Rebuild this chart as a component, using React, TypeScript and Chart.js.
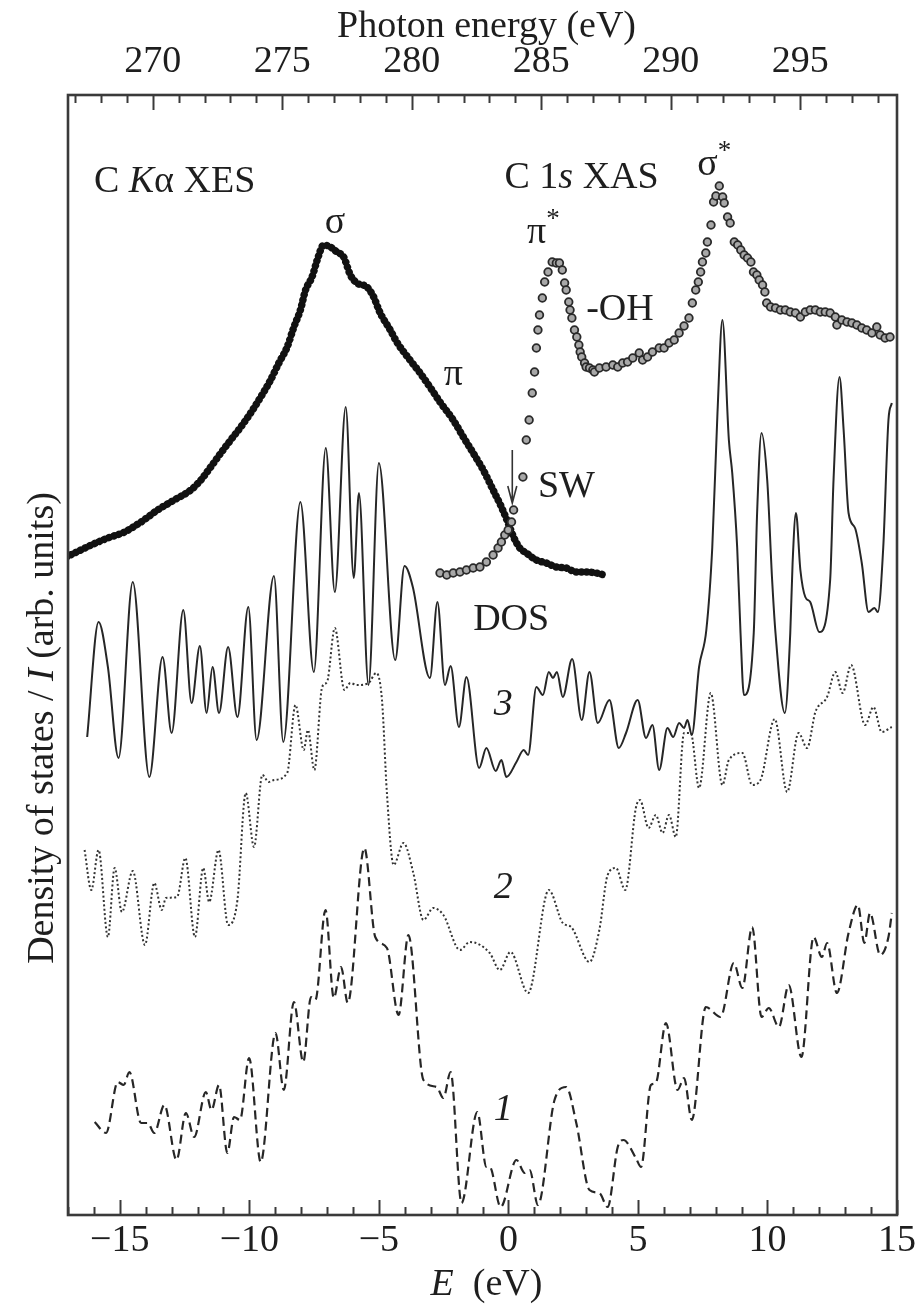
import React, { useEffect, useRef } from "react";
import { Chart, registerables } from "chart.js";

Chart.register(...registerables);

// ---------- axes ----------
const E_MIN = -17;
const E_MAX = 15;
const PHOTON_OFFSET = 283.73; // photon energy = E + offset
const bottomTickValues: number[] = [];
for (let v = -17; v <= 15; v++) bottomTickValues.push(v);
const topTickValues: number[] = [];
for (let v = 267; v <= 298; v++) topTickValues.push(v);

// ---------- data (E in eV, intensity in arb. units) ----------
const curve3: [number, number][] = [
  [-16.26, 478], [-15.82, 593], [-15.46, 548], [-15.05, 457], [-14.5, 633], [-13.86, 438], [-13.35, 558],
  [-13.0, 482], [-12.55, 605], [-12.23, 512], [-11.91, 569], [-11.65, 502], [-11.42, 548], [-11.17, 502],
  [-10.82, 568], [-10.46, 498], [-10.04, 608], [-9.72, 475], [-9.05, 639], [-8.69, 473], [-8.03, 713],
  [-7.51, 543], [-7.05, 767], [-6.7, 623], [-6.28, 808], [-5.97, 637], [-5.77, 722], [-5.4, 530],
  [-5.0, 752], [-4.37, 555], [-4.01, 649], [-3.69, 628], [-3.03, 537], [-2.74, 613], [-2.45, 530],
  [-2.23, 549], [-1.91, 488], [-1.62, 538], [-1.13, 447], [-0.85, 467], [-0.49, 444], [-0.27, 455],
  [-0.08, 438], [0.31, 453], [0.59, 465], [0.76, 460], [1.08, 528], [1.33, 520], [1.56, 543], [1.72, 537],
  [1.87, 543], [2.1, 518], [2.46, 556], [2.83, 495], [3.13, 543], [3.45, 492], [3.9, 515], [4.26, 467],
  [4.54, 482], [4.99, 515], [5.31, 477], [5.56, 490], [5.82, 445], [6.14, 487], [6.36, 478], [6.59, 492],
  [6.78, 487], [6.91, 495], [7.08, 480], [7.36, 548], [7.64, 585], [7.87, 668], [8.07, 802], [8.26, 895],
  [8.51, 775], [8.64, 742], [8.83, 668], [8.96, 582], [9.09, 520], [9.47, 582], [9.6, 702], [9.77, 782],
  [9.99, 735], [10.18, 635], [10.31, 582], [10.67, 502], [10.88, 582], [10.97, 652], [11.1, 702],
  [11.27, 645], [11.46, 618], [11.65, 613], [12.0, 583], [12.42, 635], [12.55, 735], [12.78, 838],
  [12.94, 785], [13.13, 702], [13.38, 687], [13.64, 652], [13.9, 603], [14.13, 607], [14.26, 603],
  [14.47, 668], [14.67, 795], [14.8, 812],
];

const curve2: [number, number][] = [
  [-16.36, 365], [-16.1, 325], [-15.82, 365], [-15.46, 278], [-15.2, 347], [-14.92, 303], [-14.5, 344],
  [-14.03, 270], [-13.67, 332], [-13.38, 305], [-13.22, 317], [-12.79, 318], [-12.47, 357], [-12.1, 278],
  [-11.78, 347], [-11.55, 313], [-11.19, 365], [-10.82, 290], [-10.46, 315], [-10.14, 422], [-9.82, 368],
  [-9.5, 440], [-9.25, 433], [-9.05, 435], [-8.54, 442], [-8.22, 510], [-7.9, 465], [-7.74, 485],
  [-7.49, 445], [-7.19, 528], [-7.0, 533], [-6.7, 587], [-6.33, 525], [-6.1, 532], [-5.85, 530],
  [-5.4, 532], [-5.1, 542], [-4.88, 515], [-4.69, 422], [-4.43, 350], [-4.05, 372], [-3.67, 342],
  [-3.28, 295], [-2.9, 307], [-2.51, 300], [-1.87, 265], [-1.49, 273], [-0.72, 262], [-0.33, 245],
  [0.08, 263], [0.76, 222], [1.56, 325], [2.1, 292], [2.42, 288], [3.13, 253], [3.51, 285], [3.83, 340],
  [4.15, 347], [4.51, 325], [4.92, 407], [5.08, 415], [5.41, 387], [5.69, 400], [5.95, 382], [6.2, 400],
  [6.46, 378], [6.78, 482], [7.04, 482], [7.36, 427], [7.81, 522], [8.26, 430], [8.51, 455], [9.03, 462],
  [9.41, 430], [9.73, 435], [10.28, 496], [10.76, 423], [11.2, 482], [11.53, 467], [11.85, 503],
  [12.3, 518], [12.62, 543], [12.9, 522], [13.23, 550], [13.77, 490], [14.09, 508], [14.41, 483], [14.8, 488],
];

const curve1: [number, number][] = [
  [-15.97, 93], [-15.53, 82], [-15.08, 133], [-14.85, 130], [-14.63, 143], [-14.18, 92], [-13.92, 92],
  [-13.67, 82], [-13.28, 110], [-12.81, 55], [-12.45, 102], [-12.13, 78], [-11.68, 123], [-11.46, 105],
  [-11.17, 130], [-10.85, 62], [-10.59, 98], [-10.36, 95], [-10.01, 157], [-9.56, 53], [-8.99, 182],
  [-8.67, 125], [-8.28, 213], [-7.92, 153], [-7.62, 218], [-7.45, 215], [-7.06, 305], [-6.74, 217],
  [-6.46, 248], [-6.2, 212], [-5.56, 367], [-5.14, 278], [-4.69, 267], [-4.24, 200], [-3.86, 280],
  [-3.28, 135], [-2.77, 128], [-2.51, 117], [-2.23, 143], [-1.81, 12], [-1.2, 103], [-0.85, 48],
  [-0.72, 48], [-0.3, 8], [0.31, 55], [0.63, 42], [0.82, 45], [1.14, 10], [1.78, 115], [2.23, 128],
  [2.62, 92], [3.13, 25], [3.51, 22], [3.83, 8], [4.22, 68], [4.44, 75], [4.92, 57], [5.12, 48],
  [5.5, 130], [5.69, 132], [6.08, 192], [6.53, 125], [6.78, 137], [7.08, 95], [7.62, 208], [8.19, 198],
  [8.7, 252], [9.03, 227], [9.41, 288], [9.77, 198], [10.05, 207], [10.44, 188], [10.82, 230],
  [11.31, 158], [11.78, 278], [12.1, 258], [12.3, 272], [12.68, 222], [13.13, 282], [13.49, 310],
  [13.74, 272], [13.96, 302], [14.35, 260], [14.67, 278], [14.8, 302],
];

// C Kα XES (filled dots)
const xesPoints: [number, number][] = [
  [-17.06, 658], [-16.1, 670], [-15.46, 677], [-14.82, 683], [-14.18, 693], [-13.54, 705], [-12.9, 715],
  [-12.26, 725], [-11.87, 735], [-11.49, 748], [-11.1, 762], [-10.72, 775], [-10.33, 788], [-9.95, 802],
  [-9.56, 818], [-9.18, 835], [-8.86, 852], [-8.54, 868], [-8.28, 888], [-8.03, 905], [-7.83, 925],
  [-7.58, 938], [-7.38, 955], [-7.13, 970], [-6.87, 968], [-6.62, 963], [-6.36, 958], [-6.1, 940],
  [-5.85, 932], [-5.46, 928], [-5.2, 918], [-4.95, 902], [-4.56, 885], [-4.31, 873], [-3.8, 855],
  [-3.41, 842], [-3.03, 828], [-2.64, 813], [-2.13, 795], [-1.74, 778], [-1.36, 762], [-0.97, 745],
  [-0.59, 725], [-0.27, 708], [-0.01, 692], [0.2, 678], [0.44, 667], [0.69, 662], [1.08, 655],
  [1.46, 652], [1.85, 648], [2.23, 647], [2.62, 643], [3.0, 643], [3.38, 642], [3.7, 640],
];

// C 1s XAS (open circles)
const xasPoints: [number, number][] = [
  [-2.64, 642], [-2.38, 640], [-2.13, 642], [-1.87, 643], [-1.62, 645], [-1.36, 647], [-1.1, 648],
  [-0.85, 653], [-0.59, 660], [-0.4, 667], [-0.27, 673], [-0.14, 680], [-0.01, 685], [0.12, 693],
  [0.2, 705], [0.56, 738], [0.69, 775], [0.8, 795], [0.92, 822], [1.01, 843], [1.08, 867], [1.14, 885],
  [1.2, 900], [1.31, 917], [1.4, 933], [1.53, 943], [1.69, 953], [1.85, 952], [1.97, 952], [2.08, 945],
  [2.17, 932], [2.23, 925], [2.33, 913], [2.38, 905], [2.45, 897], [2.55, 885], [2.64, 878], [2.72, 870],
  [2.77, 863], [2.83, 858], [2.94, 852], [3.0, 848], [3.13, 847], [3.26, 845], [3.32, 843], [3.51, 847],
  [3.77, 848], [4.03, 850], [4.22, 848], [4.41, 852], [4.6, 853], [4.8, 857], [5.05, 862], [5.18, 855],
  [5.37, 858], [5.56, 863], [5.82, 867], [6.01, 867], [6.2, 872], [6.4, 875], [6.59, 882], [6.78, 889],
  [6.97, 897], [7.1, 912], [7.23, 925], [7.33, 933], [7.42, 943], [7.49, 953], [7.62, 962], [7.68, 973],
  [7.82, 990], [7.92, 1013], [8.01, 1019], [8.14, 1029], [8.27, 1018], [8.33, 1012], [8.46, 998],
  [8.56, 992], [8.72, 973], [8.85, 970], [8.97, 965], [9.1, 960], [9.23, 957], [9.36, 953], [9.46, 943],
  [9.59, 940], [9.68, 935], [9.81, 930], [9.9, 923], [9.97, 912], [10.12, 908], [10.31, 907], [10.5, 905],
  [10.69, 905], [10.88, 903], [11.08, 902], [11.27, 898], [11.46, 903], [11.65, 905], [11.85, 905],
  [12.04, 903], [12.23, 903], [12.42, 902], [12.62, 898], [12.68, 890], [12.87, 895], [13.07, 893],
  [13.26, 892], [13.45, 890], [13.64, 887], [13.83, 885], [14.03, 882], [14.22, 888], [14.35, 880],
  [14.54, 877], [14.73, 878],
];

// ---------- text ----------
const SERIF = "'Liberation Serif', 'Times New Roman', Times, serif";
const FONT_SIZE = 38;

type Part = { t: string; it?: boolean; sup?: boolean };
type Label = { parts: Part[]; E: number; v: number; align: "left" | "center" };

const labels: Label[] = [
  { parts: [{ t: "C " }, { t: "K", it: true }, { t: "α XES" }], E: -16.0, v: 1023, align: "left" },
  { parts: [{ t: "σ" }], E: -6.69, v: 982, align: "center" },
  { parts: [{ t: "π" }], E: -2.13, v: 830, align: "center" },
  { parts: [{ t: "C 1" }, { t: "s", it: true }, { t: " XAS" }], E: -0.15, v: 1027, align: "left" },
  { parts: [{ t: "σ" }, { t: "*", sup: true }], E: 7.95, v: 1040, align: "center" },
  { parts: [{ t: "π" }, { t: "*", sup: true }], E: 1.35, v: 972, align: "center" },
  { parts: [{ t: "-OH" }], E: 3.0, v: 895, align: "left" },
  { parts: [{ t: "SW" }], E: 1.14, v: 718, align: "left" },
  { parts: [{ t: "DOS" }], E: -1.36, v: 585, align: "left" },
  { parts: [{ t: "3", it: true }], E: -0.2, v: 500, align: "center" },
  { parts: [{ t: "2", it: true }], E: -0.2, v: 317, align: "center" },
  { parts: [{ t: "1", it: true }], E: -0.2, v: 95, align: "center" },
];
const swArrow = { E: 0.15, vFrom: 765, vTo: 712 };

function drawParts(ctx: CanvasRenderingContext2D, parts: Part[], x: number, y: number, size: number, align: string) {
  const fontFor = (p: Part) => `${p.it ? "italic " : ""}${p.sup ? Math.round(size * 0.72) : size}px ${SERIF}`;
  let total = 0;
  for (const p of parts) {
    ctx.font = fontFor(p);
    total += ctx.measureText(p.t).width;
  }
  let cx = align === "center" ? x - total / 2 : x;
  ctx.textAlign = "left";
  ctx.textBaseline = "alphabetic";
  for (const p of parts) {
    ctx.font = fontFor(p);
    ctx.fillText(p.t, cx, p.sup ? y - size * 0.42 : y);
    cx += ctx.measureText(p.t).width;
  }
  return total;
}

const decorPlugin = {
  id: "decor",
  afterDatasetsDraw(chart: any) {
    const { ctx, chartArea: a, scales } = chart;
    const xs = scales.x;
    const xt = scales.xTop;
    const ys = scales.y;
    ctx.save();
    ctx.strokeStyle = "#3a3a3a";
    ctx.lineWidth = 2;
    ctx.lineCap = "butt";
    for (const t of xs.ticks) {
      const p = Math.round(xs.getPixelForValue(t.value)) + 0.5;
      const len = t.value % 5 === 0 ? 15 : 8;
      ctx.beginPath();
      ctx.moveTo(p, a.bottom);
      ctx.lineTo(p, a.bottom - len);
      ctx.stroke();
    }
    for (const t of xt.ticks) {
      const p = Math.round(xt.getPixelForValue(t.value)) + 0.5;
      const len = t.value % 5 === 0 ? 15 : 8;
      ctx.beginPath();
      ctx.moveTo(p, a.top);
      ctx.lineTo(p, a.top + len);
      ctx.stroke();
    }
    ctx.lineWidth = 2.6;
    ctx.strokeRect(a.left, a.top, a.right - a.left, a.bottom - a.top);

    ctx.fillStyle = "#1e1e1e";
    for (const l of labels) {
      drawParts(ctx, l.parts, xs.getPixelForValue(l.E), ys.getPixelForValue(l.v), FONT_SIZE, l.align);
    }
    // SW arrow
    const ax = xs.getPixelForValue(swArrow.E);
    const y0 = ys.getPixelForValue(swArrow.vFrom);
    const y1 = ys.getPixelForValue(swArrow.vTo);
    ctx.strokeStyle = "#333";
    ctx.lineWidth = 1.6;
    ctx.beginPath();
    ctx.moveTo(ax, y0);
    ctx.lineTo(ax, y1);
    ctx.moveTo(ax - 4.5, y1 - 17);
    ctx.lineTo(ax, y1);
    ctx.lineTo(ax + 4.5, y1 - 17);
    ctx.stroke();

    // axis titles
    const midX = (a.left + a.right) / 2;
    drawParts(ctx, [{ t: "Photon energy (eV)" }], midX + 4, 37, FONT_SIZE, "center");
    drawParts(ctx, [{ t: "E", it: true }, { t: "  (eV)" }], midX + 4, 1295, FONT_SIZE, "center");
    ctx.save();
    ctx.translate(53, 728);
    ctx.rotate(-Math.PI / 2);
    drawParts(ctx, [{ t: "Density of states / " }, { t: "I", it: true }, { t: " (arb. units)" }], 0, 0, FONT_SIZE, "center");
    ctx.restore();
    ctx.restore();
  },
};

const toXY = (arr: [number, number][]) => arr.map(([x, y]) => ({ x, y }));
const fmt = (v: number) => (v < 0 ? "\u2212" + Math.abs(v) : String(v));

export default function App() {
  const ref = useRef<HTMLCanvasElement>(null);
  useEffect(() => {
    const canvas = ref.current!;
    const tickFont = { family: SERIF, size: FONT_SIZE };
    const chart = new Chart(canvas, {
      type: "line",
      data: {
        datasets: [
          {
            label: "C 1s XAS",
            data: toXY(xasPoints),
            showLine: false,
            pointRadius: 3.8,
            pointBorderWidth: 1.8,
            pointBorderColor: "#2a2a2a",
            pointBackgroundColor: "#a8a8a8",
          },
          {
            label: "C Kα XES",
            data: toXY(xesPoints),
            borderColor: "#111",
            borderWidth: 7.5,
            borderDash: [0.01, 5.2],
            borderCapStyle: "round",
            pointRadius: 0,
            cubicInterpolationMode: "monotone",
          },
          {
            label: "3",
            data: toXY(curve3),
            borderColor: "#262626",
            borderWidth: 2,
            pointRadius: 0,
            cubicInterpolationMode: "monotone",
          },
          {
            label: "2",
            data: toXY(curve2),
            borderColor: "#333",
            borderWidth: 2,
            borderDash: [2, 2.4],
            pointRadius: 0,
            cubicInterpolationMode: "monotone",
          },
          {
            label: "1",
            data: toXY(curve1),
            borderColor: "#262626",
            borderWidth: 2.2,
            borderDash: [9, 5],
            pointRadius: 0,
            cubicInterpolationMode: "monotone",
          },
        ],
      } as any,
      options: {
        animation: false,
        responsive: false,
        devicePixelRatio: 1,
        layout: { padding: { left: 68, right: 22, top: 0, bottom: 0 } },
        plugins: { legend: { display: false }, tooltip: { enabled: false } },
        scales: {
          x: {
            type: "linear",
            position: "bottom",
            min: E_MIN,
            max: E_MAX,
            grid: { display: false, drawTicks: false },
            border: { display: false },
            afterBuildTicks: (s: any) => {
              s.ticks = bottomTickValues.map((value) => ({ value }));
            },
            afterFit: (s: any) => {
              s.height = 91;
              s.paddingLeft = 0;
              s.paddingRight = 0;
            },
            ticks: {
              autoSkip: false,
              maxRotation: 0,
              padding: 3,
              color: "#1e1e1e",
              font: tickFont,
              callback: (v: any) => (Number(v) % 5 === 0 ? fmt(Number(v)) : ""),
            },
          },
          xTop: {
            type: "linear",
            position: "top",
            min: E_MIN + PHOTON_OFFSET,
            max: E_MAX + PHOTON_OFFSET,
            grid: { display: false, drawTicks: false },
            border: { display: false },
            afterBuildTicks: (s: any) => {
              s.ticks = topTickValues.map((value) => ({ value }));
            },
            afterFit: (s: any) => {
              s.height = 95;
              s.paddingLeft = 0;
              s.paddingRight = 0;
            },
            ticks: {
              autoSkip: false,
              maxRotation: 0,
              padding: 10,
              color: "#1e1e1e",
              font: tickFont,
              callback: (v: any) => (Number(v) % 5 === 0 ? String(v) : ""),
            },
          },
          y: {
            type: "linear",
            display: false,
            min: 0,
            max: 1120,
          },
        },
      } as any,
      plugins: [decorPlugin],
    });
    return () => chart.destroy();
  }, []);
  return (
    <div style={{ position: "absolute", left: 0, top: 0, width: 919, height: 1306, background: "#fff" }}>
      <canvas ref={ref} width={919} height={1306} style={{ display: "block", width: 919, height: 1306 }} />
    </div>
  );
}
